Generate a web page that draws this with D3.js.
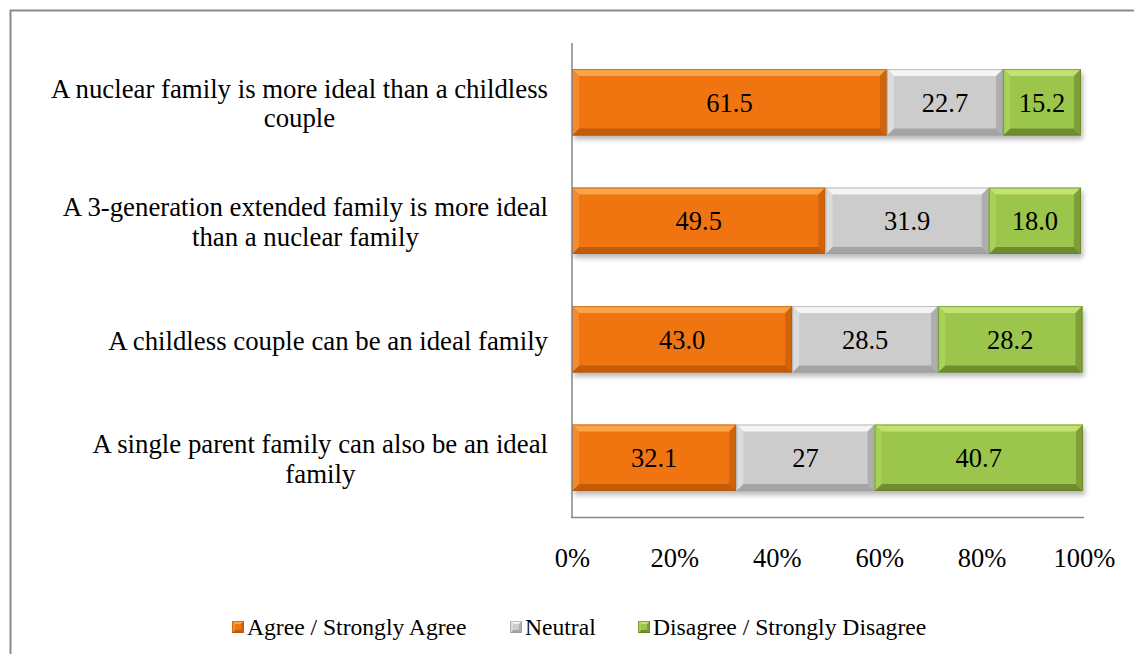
<!DOCTYPE html>
<html><head><meta charset="utf-8">
<script src="https://cdn.jsdelivr.net/npm/d3@7"></script>
<style>body{margin:0;background:#fff}svg{display:block}</style>
</head><body><svg id="c" width="1134" height="654"></svg>
<script>
const categories = [
  ["A nuclear family is more ideal than a childless", "couple"],
  ["A 3-generation extended family is more ideal", "than a nuclear family"],
  ["A childless couple can be an ideal family"],
  ["A single parent family can also be an ideal", "family"]
];
const seriesNames = ["Agree / Strongly Agree", "Neutral", "Disagree / Strongly Disagree"];
const agree = [61.5, 49.5, 43.0, 32.1];
const neutral = [22.7, 31.9, 28.5, 27];
const disagree = [15.2, 18.0, 28.2, 40.7];
const valueLabels = [["61.5","22.7","15.2"],["49.5","31.9","18.0"],["43.0","28.5","28.2"],["32.1","27","40.7"]];
const tickValues = [0, 20, 40, 60, 80, 100];

const FONT = "Liberation Serif";

const palettes = [
  {face:"#F07511", top:"#F9A448", bottom:"#C25C08", left:"#F58A2C", right:"#D0640A", edge:"#B35608"},
  {face:"#CCCCCC", top:"#F4F4F4", bottom:"#A4A4A4", left:"#DCDCDC", right:"#AEAEAE", edge:"#999999"},
  {face:"#9BC64B", top:"#C3E273", bottom:"#6D8D2E", left:"#A9D15A", right:"#7E9F38", edge:"#5F7D27"}
];

const svg = d3.select("#c").attr("font-family", FONT);
const defs = svg.append("defs");
const f = defs.append("filter").attr("id","sh").attr("x","-10%").attr("y","-20%").attr("width","130%").attr("height","160%");
f.append("feGaussianBlur").attr("stdDeviation",2.5);

svg.append("path").attr("d","M10.5,1200 V10.5 H1200").attr("fill","none").attr("stroke","#8a8a8a").attr("stroke-width",2);

const x = d3.scaleLinear().domain([0,100]).range([572,1084]);
const y = d3.scaleBand().domain(d3.range(categories.length)).range([43,517]).paddingInner(0.44).paddingOuter(0.22);

const series = [agree, neutral, disagree];

function bevel(g, x0, y0, w, h, p, b){
  const x1 = x0 + w, y1 = y0 + h;
  g.append("rect").attr("x",x0).attr("y",y0).attr("width",w).attr("height",h).attr("fill",p.face);
  const poly = (pts, c) => g.append("polygon").attr("points", pts.map(d=>d.join(",")).join(" ")).attr("fill", c);
  poly([[x0,y0],[x1,y0],[x1-b,y0+b],[x0+b,y0+b]], p.top);
  poly([[x0,y1],[x1,y1],[x1-b,y1-b],[x0+b,y1-b]], p.bottom);
  poly([[x0,y0],[x0+b,y0+b],[x0+b,y1-b],[x0,y1]], p.left);
  poly([[x1,y0],[x1-b,y0+b],[x1-b,y1-b],[x1,y1]], p.right);
  g.append("rect").attr("x",x0+0.5).attr("y",y0+0.5).attr("width",Math.max(0,w-1)).attr("height",h-1).attr("fill","none").attr("stroke",p.edge).attr("stroke-width",1).attr("stroke-opacity",0.6);
}

categories.forEach((c,i)=>{
  const total = agree[i]+neutral[i]+disagree[i];
  svg.append("rect").attr("x",x(0)+2).attr("y",y(i)+4).attr("width",x(total)-x(0)).attr("height",y.bandwidth())
    .attr("fill","#000").attr("opacity",0.28).attr("filter","url(#sh)");
});

const barG = svg.append("g");
categories.forEach((c,i)=>{
  let cum = 0;
  series.forEach((s,k)=>{
    const v = s[i];
    const x0 = x(cum), x1 = x(cum+v);
    const g = barG.append("g");
    bevel(g, x0, y(i), x1-x0, y.bandwidth(), palettes[k], 7);
    g.append("text").attr("x",(x0+x1)/2).attr("y",y(i)+y.bandwidth()/2).attr("dy","0.35em")
      .attr("text-anchor","middle").attr("font-family",FONT).attr("font-size",26.5).attr("fill","#000").text(valueLabels[i][k]);
    cum += v;
  });
});

svg.append("line").attr("x1",572).attr("x2",572).attr("y1",43).attr("y2",518).attr("stroke","#868686").attr("stroke-width",1.5);
svg.append("line").attr("x1",571).attr("x2",1084).attr("y1",517.5).attr("y2",517.5).attr("stroke","#868686").attr("stroke-width",1.5);

const xAxis = svg.append("g").attr("transform","translate(0,558)")
  .call(d3.axisBottom(x).tickValues(tickValues).tickFormat(d=>d+"%").tickSize(0).tickPadding(0));
xAxis.attr("font-family",FONT).attr("font-size",26.5);
xAxis.select(".domain").remove();
xAxis.selectAll("text").attr("fill","#000").attr("dy","0.35em").attr("y",0);

const labelRight = 548;
categories.forEach((lines,i)=>{
  const cy = y(i)+y.bandwidth()/2;
  const lh = 29.5;
  const t = svg.append("text").attr("text-anchor","middle").attr("font-family",FONT).attr("font-size",26.8).attr("fill","#000");
  const spans = lines.map((ln,j)=> t.append("tspan")
      .attr("y", cy + 1 + (j - (lines.length-1)/2)*lh).attr("dy","0.35em").text(ln));
  const maxW = d3.max(spans, s => s.node().getComputedTextLength());
  spans.forEach(s => s.attr("x", labelRight - maxW/2));
});

const legX = [232, 510, 638];
const legend = svg.append("g");
seriesNames.forEach((n,k)=>{
  const gx = legX[k];
  const g = legend.append("g");
  bevel(g, gx, 621, 12, 12, palettes[k], 3);
  legend.append("text").attr("x",gx+15).attr("y",627).attr("dy","0.35em").attr("font-family",FONT).attr("font-size",23.6).attr("fill","#000").text(n);
});
</script></body></html>
